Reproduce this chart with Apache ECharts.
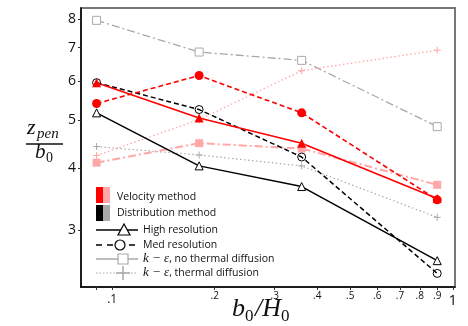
<!DOCTYPE html>
<html>
<head>
<meta charset="utf-8">
<script src="https://cdn.jsdelivr.net/npm/echarts@6/dist/echarts.min.js"></script>
<style>
  html, body { margin: 0; padding: 0; background: #fff; }
  #chart { width: 468px; height: 326px; }
</style>
</head>
<body>
<div id="chart"></div>
<script>
// b0/H0 positions of the four runs
const xVals = [0.09, 0.18, 0.36, 0.9]

// velocity method (red / pink)
const velHigh = [5.95, 5.05, 4.49, 3.47]
const velMed = [5.40, 6.15, 5.17, 3.45]
const velKeNoTd = [4.10, 4.49, 4.38, 3.70]
const velKeTd = [4.24, 5.01, 6.29, 6.92]

// distribution method (black / gray)
const distHigh = [5.17, 4.04, 3.67, 2.60]
const distMed = [5.95, 5.25, 4.21, 2.45]
const distKeNoTd = [7.95, 6.86, 6.60, 4.85]
const distKeTd = [4.42, 4.25, 4.04, 3.18]

// ticks
const xTicks = [0.09, 0.1, 0.2, 0.3, 0.4, 0.5, 0.6, 0.7, 0.8, 0.9, 1]
const xTickLabels = [0.1, 0.2, 0.3, 0.4, 0.5, 0.6, 0.7, 0.8, 0.9, 1]
const yTicks = [3, 4, 5, 6, 7, 8]

const RED = '#ff0000'
const PINK = '#ffa8a8'
const GRAY = '#a9a9a9'
const BLACK = '#000000'
const PLUS = 'path://M5,0L5,10M0,5L10,5'
const DASH = [5, 3]
const DASHDOT = [8, 3, 2, 3]
const DOT = [1.5, 2.5]

const pairs = (ys) => xVals.map((x, i) => [x, ys[i]])

function line(name, ys, color, type, width, symbol, size, fill) {
  return {
    name,
    type: 'line',
    data: pairs(ys),
    symbol,
    symbolSize: size,
    showSymbol: true,
    animation: false,
    lineStyle: { color, width, type },
    itemStyle: {
      color: fill,
      borderColor: color,
      borderWidth: fill === color ? 0 : 1
    },
    emphasis: { disabled: true }
  }
}

const series = [
  line('dist ke td', distKeTd, GRAY, DOT, 1.2, PLUS, 7, 'none'),
  line('dist ke', distKeNoTd, GRAY, DASHDOT, 1.3, 'rect', 8, '#fff'),
  line('vel ke td', velKeTd, PINK, DOT, 1.3, PLUS, 7, 'none'),
  line('vel ke', velKeNoTd, PINK, DASHDOT, 2, 'rect', 8, PINK),
  line('dist high', distHigh, BLACK, 'solid', 1.5, 'triangle', 8, '#fff'),
  line('dist med', distMed, BLACK, DASH, 1.5, 'circle', 8, 'transparent'),
  line('vel med', velMed, RED, DASH, 1.6, 'circle', 9, RED),
  line('vel high', velHigh, RED, 'solid', 1.6, 'triangle', 9, RED)
]

const LX = 96
const TXT = { fontFamily: 'Open Sans', fontSize: 10.5, fill: '#111' }
const ITX = { fontFamily: 'Liberation Serif', fontStyle: 'italic', fontSize: 12, fill: '#111' }

function legendText(x, y, rich) {
  return { type: 'text', x, y, style: { text: rich, verticalAlign: 'middle', rich: {
    m: { fontFamily: 'Liberation Serif', fontStyle: 'italic', fontSize: 13, fill: '#111' },
    t: { fontFamily: 'Open Sans', fontSize: 10.5, fill: '#111' }
  } } }
}

const graphic = [
  // colour blocks
  { type: 'rect', shape: { x: LX, y: 187, width: 7, height: 16 }, style: { fill: RED } },
  { type: 'rect', shape: { x: LX + 7, y: 187, width: 7, height: 16 }, style: { fill: PINK } },
  legendText(117, 197, '{t|Velocity method}'),
  { type: 'rect', shape: { x: LX, y: 205, width: 7, height: 16 }, style: { fill: BLACK } },
  { type: 'rect', shape: { x: LX + 7, y: 205, width: 7, height: 16 }, style: { fill: GRAY } },
  legendText(117, 213, '{t|Distribution method}'),
  // high resolution
  { type: 'line', shape: { x1: LX, y1: 230, x2: 138, y2: 230 }, style: { stroke: BLACK, lineWidth: 1.5 } },
  { type: 'polygon', shape: { points: [[118, 235], [130, 235], [124, 224]] }, style: { fill: '#fff', stroke: BLACK, lineWidth: 1.2 } },
  legendText(143, 230, '{t|High resolution}'),
  // med resolution
  { type: 'line', shape: { x1: LX, y1: 245, x2: 138, y2: 245 }, style: { stroke: BLACK, lineWidth: 1.5, lineDash: [6, 5] } },
  { type: 'circle', shape: { cx: 120, cy: 245, r: 5 }, style: { fill: '#fff', stroke: BLACK, lineWidth: 1.2 } },
  legendText(143, 245, '{t|Med resolution}'),
  // k-eps no thermal diffusion
  { type: 'line', shape: { x1: LX, y1: 259, x2: 138, y2: 259 }, style: { stroke: GRAY, lineWidth: 1.5 } },
  { type: 'rect', shape: { x: 118, y: 254, width: 10, height: 10 }, style: { fill: '#fff', stroke: GRAY, lineWidth: 1.2 } },
  legendText(143, 259, '{m|k − ε}{t|, no thermal diffusion}'),
  // k-eps thermal diffusion
  { type: 'line', shape: { x1: LX, y1: 273, x2: 138, y2: 273 }, style: { stroke: GRAY, lineWidth: 1.2, lineDash: [1.5, 2] } },
  { type: 'line', shape: { x1: 123, y1: 266, x2: 123, y2: 280 }, style: { stroke: GRAY, lineWidth: 1.5 } },
  { type: 'line', shape: { x1: 116, y1: 273, x2: 130, y2: 273 }, style: { stroke: GRAY, lineWidth: 1.5 } },
  legendText(143, 273, '{m|k − ε}{t|, thermal diffusion}'),
  // y axis title (fraction)
  { type: 'text', x: 27, y: 139, style: { text: 'z', fontFamily: 'Liberation Serif', fontStyle: 'italic', fontSize: 22, fill: '#111', verticalAlign: 'bottom' } },
  { type: 'text', x: 37, y: 142, style: { text: 'pen', fontFamily: 'Liberation Serif', fontStyle: 'italic', fontSize: 15, fill: '#111', verticalAlign: 'bottom' } },
  { type: 'line', shape: { x1: 26, y1: 144, x2: 63, y2: 144 }, style: { stroke: '#111', lineWidth: 1.5 } },
  { type: 'text', x: 35, y: 163, style: { text: 'b', fontFamily: 'Liberation Serif', fontStyle: 'italic', fontSize: 21, fill: '#111', verticalAlign: 'bottom' } },
  { type: 'text', x: 46, y: 165, style: { text: '0', fontFamily: 'Liberation Serif', fontSize: 14, fill: '#111', verticalAlign: 'bottom' } },
  // x axis title
  { type: 'text', x: 232, y: 322, style: { text: 'b', fontFamily: 'Liberation Serif', fontStyle: 'italic', fontSize: 26, fill: '#111', verticalAlign: 'bottom' } },
  { type: 'text', x: 245, y: 325, style: { text: '0', fontFamily: 'Liberation Serif', fontSize: 17, fill: '#111', verticalAlign: 'bottom' } },
  { type: 'text', x: 255, y: 322, style: { text: '/H', fontFamily: 'Liberation Serif', fontStyle: 'italic', fontSize: 26, fill: '#111', verticalAlign: 'bottom' } },
  { type: 'text', x: 281, y: 325, style: { text: '0', fontFamily: 'Liberation Serif', fontSize: 17, fill: '#111', verticalAlign: 'bottom' } }
]

const chart = echarts.init(document.getElementById('chart'), null, { renderer: 'canvas' })

chart.setOption({
  animation: false,
  backgroundColor: '#fff',
  grid: {
    left: 81, right: 13, top: 8, bottom: 39,
    show: true, borderColor: '#777', borderWidth: 2, backgroundColor: 'transparent'
  },
  xAxis: {
    type: 'log',
    logBase: 10,
    min: 0.081,
    max: 1.015,
    axisLine: { show: true, onZero: false, lineStyle: { color: BLACK, width: 1.5 } },
    axisTick: { show: true, length: 3, customValues: xTicks, lineStyle: { color: '#333', width: 1 } },
    splitLine: { show: false },
    axisLabel: {
      customValues: xTickLabels,
      margin: 4,
      formatter: (v) => {
        if (Math.abs(v - 1) < 1e-6) return '{big|1}'
        if (Math.abs(v - 0.1) < 1e-6) return '{mid|.1}'
        return '{sm|.' + Math.round(v * 10) + '}'
      },
      rich: {
        big: { fontFamily: 'Open Sans', fontSize: 15, color: '#111', padding: [2, 0, 0, 0] },
        mid: { fontFamily: 'Open Sans', fontSize: 12, color: '#111', padding: [3, 0, 0, 0] },
        sm: { fontFamily: 'Open Sans', fontSize: 10, color: '#111' }
      }
    }
  },
  yAxis: {
    type: 'log',
    logBase: 10,
    min: 2.3,
    max: 8.42,
    axisLine: { show: true, onZero: false, lineStyle: { color: BLACK, width: 1.5 } },
    axisTick: { show: true, length: 3, customValues: yTicks, lineStyle: { color: '#333', width: 1 } },
    splitLine: { show: false },
    axisLabel: {
      customValues: yTicks,
      margin: 5,
      fontFamily: 'Open Sans',
      fontSize: 14,
      color: '#111'
    }
  },
  series,
  graphic
})
</script>
</body>
</html>
